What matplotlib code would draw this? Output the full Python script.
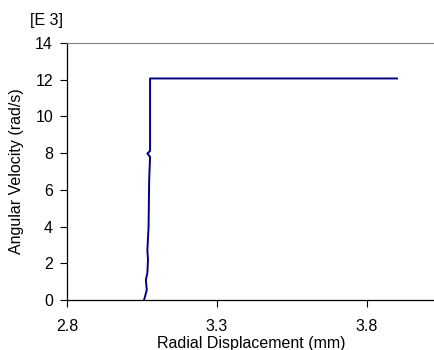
import matplotlib
matplotlib.use("Agg")
import matplotlib.pyplot as plt

plt.rcParams['font.family'] = ['Liberation Sans', 'DejaVu Sans']

# radial displacement (mm) vs angular velocity (x1000 rad/s)
displacement = [3.057, 3.066, 3.063, 3.068, 3.070, 3.068, 3.072, 3.074,
                3.077, 3.068, 3.077, 3.077, 3.900]
velocity = [0.0, 0.54, 1.09, 1.47, 2.18, 2.72, 3.98, 6.54,
            7.80, 7.98, 8.12, 12.07, 12.07]

x_ticks = [2.8, 3.3, 3.8]
y_ticks = [0, 2, 4, 6, 8, 10, 12, 14]

fig = plt.figure(figsize=(4.35, 3.5), dpi=100)
ax = fig.add_axes([0.154, 0.143, 0.846, 0.734])

ax.plot(displacement, velocity, color='#000080', linewidth=1.4)

ax.set_xlim(2.8, 4.027)
ax.set_ylim(0, 14)
ax.set_xticks(x_ticks)
ax.set_xticklabels([f"{t:.1f}" for t in x_ticks])
ax.set_yticks(y_ticks)

ax.spines['right'].set_visible(False)
ax.spines['top'].set_color('#808080')
ax.spines['left'].set_linewidth(0.9)
ax.spines['bottom'].set_linewidth(0.9)
ax.tick_params(direction='out', length=5, width=0.8, labelsize=11.5)
ax.tick_params(axis='x', pad=9)
ax.tick_params(axis='y', pad=5)

ax.set_xlabel("Radial Displacement (mm)", fontsize=11.5, labelpad=1)
ax.set_ylabel("Angular Velocity (rad/s)", fontsize=11.5, labelpad=8)
fig.text(0.068, 0.94, "[E 3]", fontsize=11.5, ha='left', va='center')

fig.savefig("out.png", dpi=100)
